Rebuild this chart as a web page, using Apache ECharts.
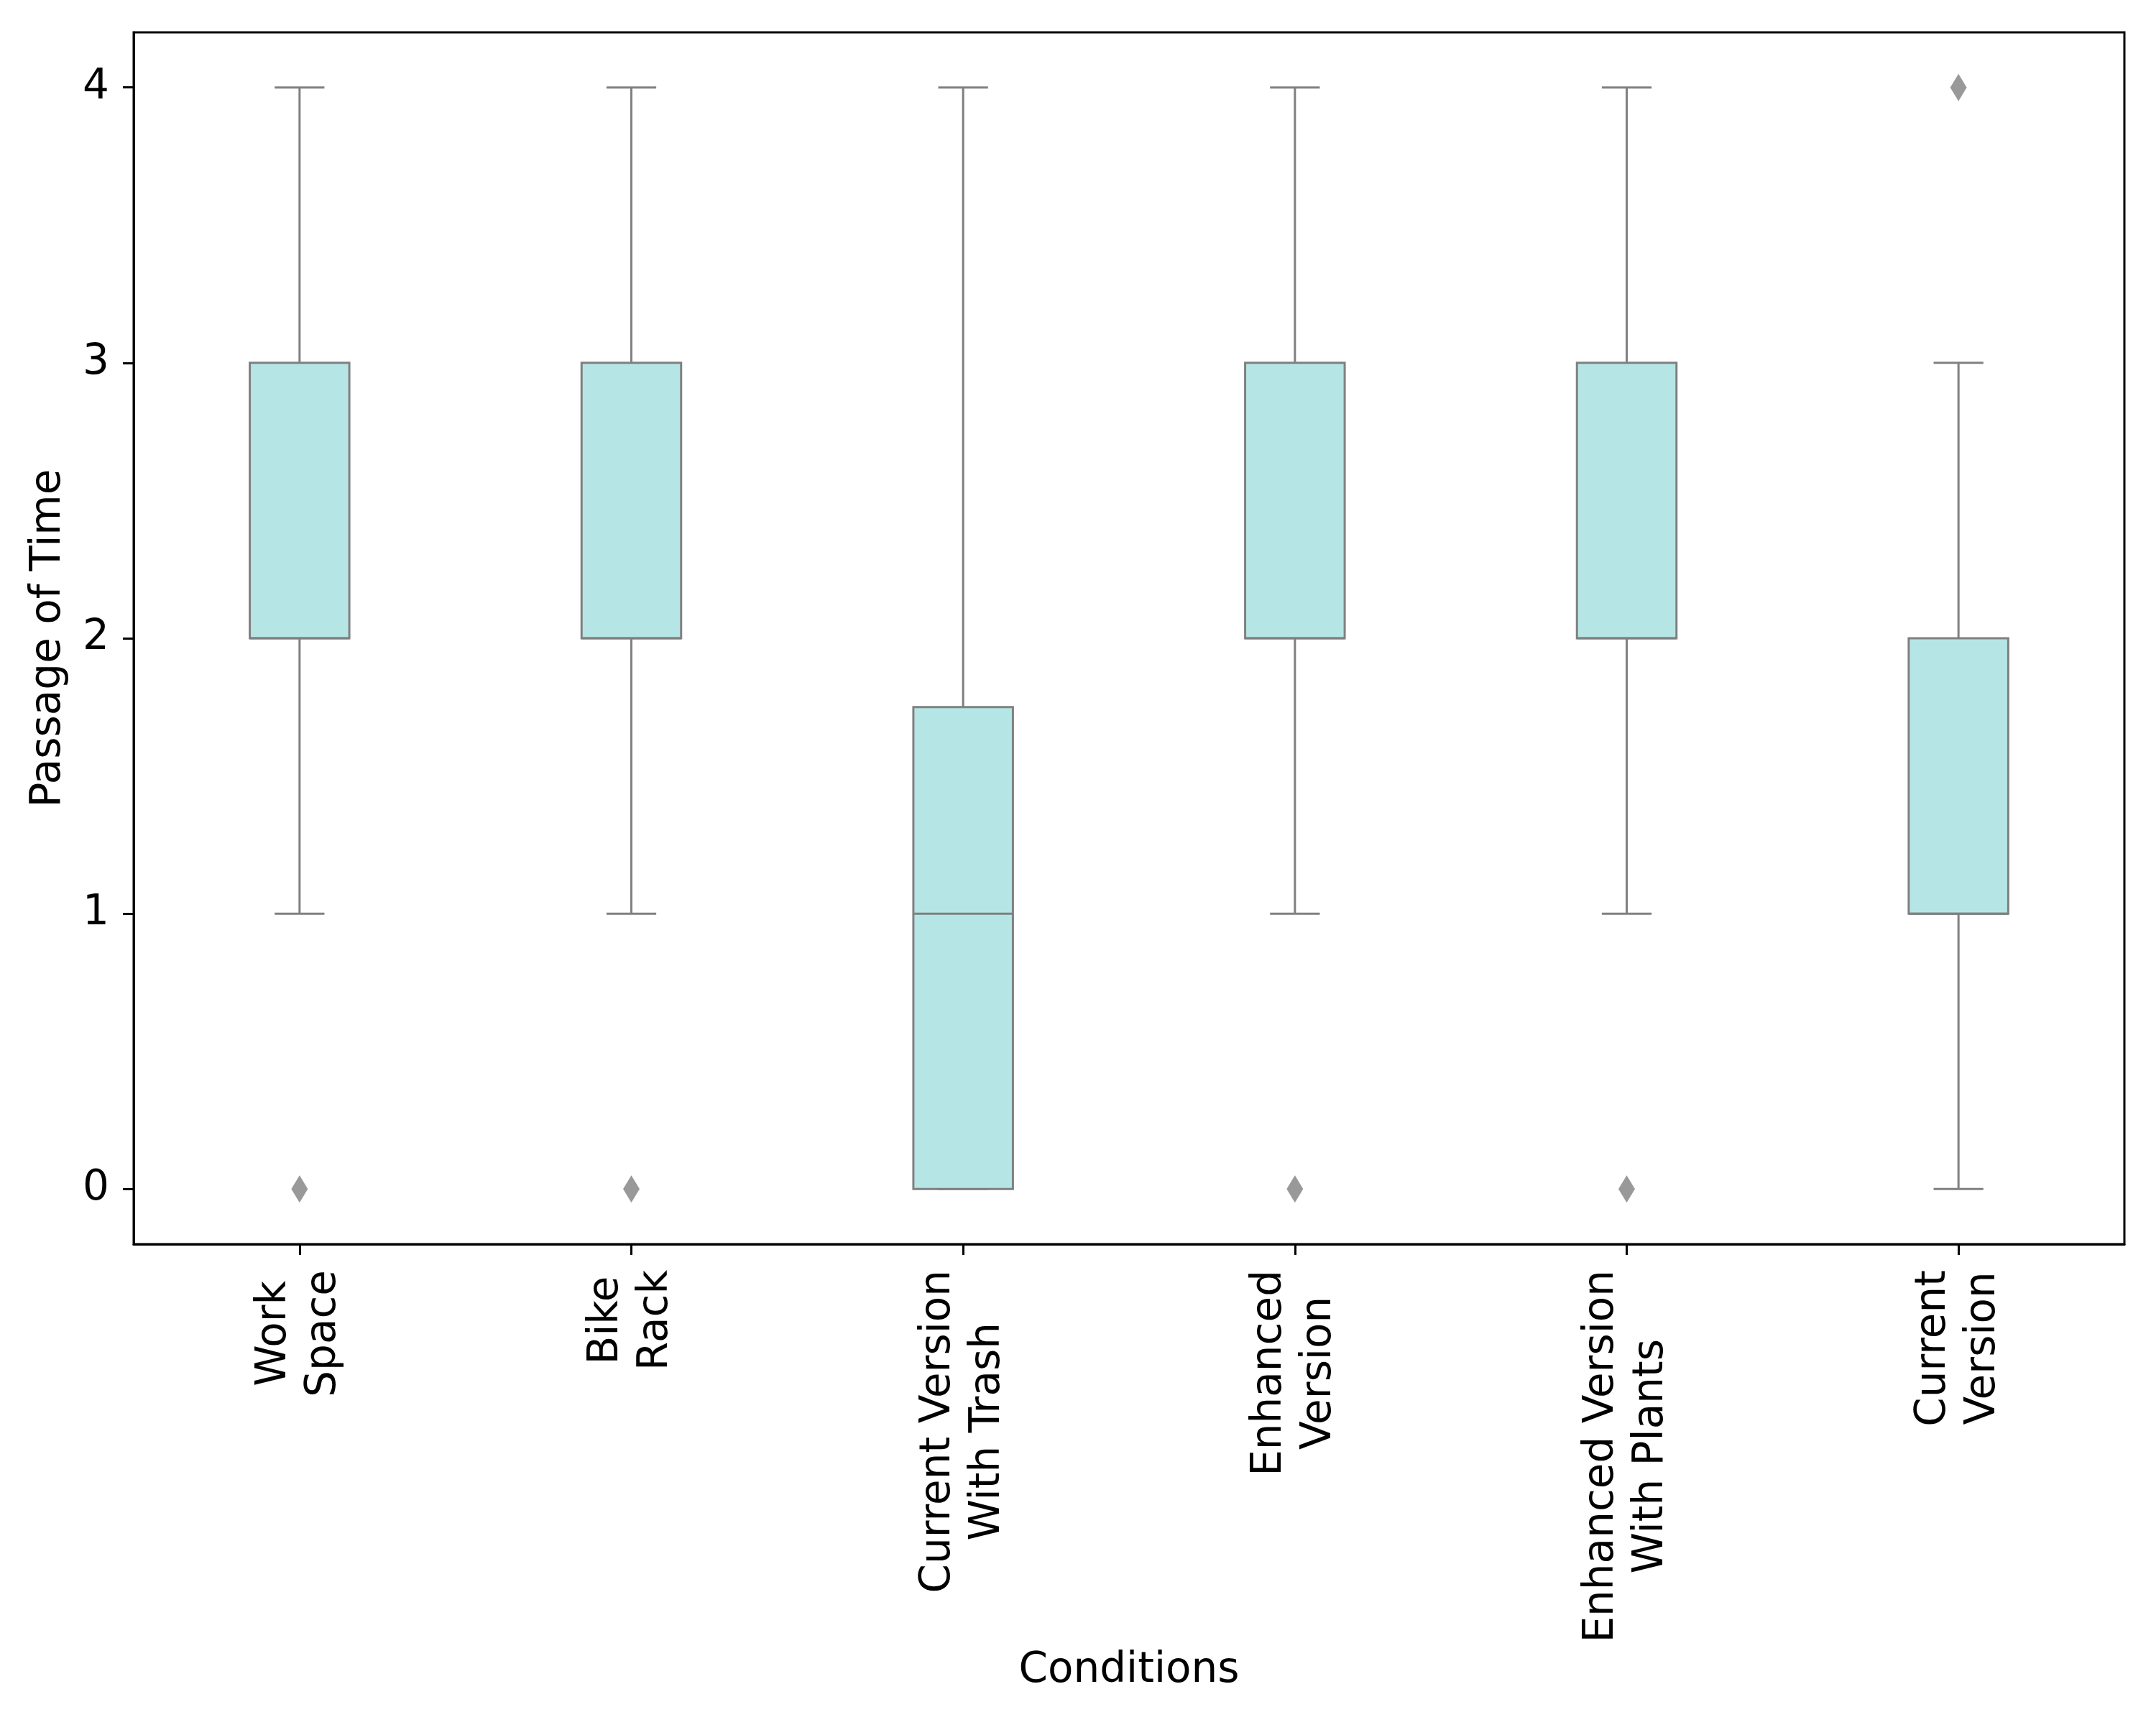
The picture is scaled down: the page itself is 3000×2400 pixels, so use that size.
<!DOCTYPE html>
<html>
<head>
<meta charset="utf-8">
<script src="https://cdn.jsdelivr.net/npm/echarts@6/dist/echarts.min.js"></script>
<style>
html,body{margin:0;padding:0;background:#fff;}
#chart{width:3000px;height:2400px;}
</style>
</head>
<body>
<div id="chart"></div>
<script>
// ---- data ----
const categories = ['Work\nSpace', 'Bike\nRack', 'Current Version\nWith Trash', 'Enhanced\nVersion', 'Enhanced Version\nWith Plants', 'Current\nVersion'];
const whiskerLow = [1, 1, 0, 1, 1, 0];
const q1 = [2, 2, 0, 2, 2, 1];
const median = [2, 2, 1, 2, 2, 1];
const q3 = [3, 3, 1.75, 3, 3, 2];
const whiskerHigh = [4, 4, 4, 4, 4, 3];
const outliers = [[0, 0], [1, 0], [3, 0], [4, 0], [5, 4]];
const yTicks = [0, 1, 2, 3, 4];

const FONT = 'DejaVu Sans';
const LINE = '#808080';
const FILL = '#b5e6e5';

const boxData = categories.map((c, i) => [i, whiskerLow[i], q1[i], median[i], q3[i], whiskerHigh[i]]);

function renderBox(params, api) {
  const x = api.value(0);
  const low = api.coord([x, api.value(1)]);
  const b1 = api.coord([x, api.value(2)]);
  const med = api.coord([x, api.value(3)]);
  const b3 = api.coord([x, api.value(4)]);
  const high = api.coord([x, api.value(5)]);
  const band = api.size([1, 0])[0];
  const bw = band * 0.3;
  const cw = band * 0.15;
  const cx = low[0];
  const ls = { stroke: LINE, lineWidth: 3, fill: null };
  return {
    type: 'group',
    children: [
      { type: 'line', shape: { x1: cx, y1: low[1], x2: cx, y2: b1[1] }, style: ls },
      { type: 'line', shape: { x1: cx, y1: b3[1], x2: cx, y2: high[1] }, style: ls },
      { type: 'line', shape: { x1: cx - cw / 2, y1: low[1], x2: cx + cw / 2, y2: low[1] }, style: ls },
      { type: 'line', shape: { x1: cx - cw / 2, y1: high[1], x2: cx + cw / 2, y2: high[1] }, style: ls },
      { type: 'rect', shape: { x: cx - bw / 2, y: b3[1], width: bw, height: b1[1] - b3[1] }, style: { fill: FILL, stroke: LINE, lineWidth: 3 } },
      { type: 'line', shape: { x1: cx - bw / 2, y1: med[1], x2: cx + bw / 2, y2: med[1] }, style: ls }
    ]
  };
}

const chart = echarts.init(document.getElementById('chart'), null, { renderer: 'canvas' });
chart.setOption({
  backgroundColor: '#ffffff',
  animation: false,
  grid: {
    left: 186, right: 44, top: 45, bottom: 669,
    show: true, borderColor: '#000', borderWidth: 3, backgroundColor: 'transparent'
  },
  xAxis: {
    type: 'category',
    data: categories,
    boundaryGap: true,
    name: 'Conditions',
    nameLocation: 'middle',
    nameGap: 565,
    nameTextStyle: { fontFamily: FONT, fontSize: 58, color: '#000' },
    axisLine: { show: true, onZero: false, lineStyle: { color: '#000', width: 3 } },
    axisTick: { show: true, alignWithLabel: true, length: 15, lineStyle: { color: '#000', width: 3 } },
    axisLabel: {
      rotate: 90,
      interval: 0,
      margin: 36,
      formatter: v => v.split('\n').map(s => '{c|' + s + '}').join('\n'),
      rich: { c: { align: 'center', fontFamily: FONT, fontSize: 58, lineHeight: 69, color: '#000' } }
    },
    splitLine: { show: false }
  },
  yAxis: {
    type: 'value',
    min: -0.2,
    max: 4.2,
    name: 'Passage of Time',
    nameLocation: 'middle',
    nameGap: 89,
    nameRotate: 90,
    nameTextStyle: { fontFamily: FONT, fontSize: 58, color: '#000' },
    axisLine: { show: true, onZero: false, lineStyle: { color: '#000', width: 3 } },
    axisTick: { show: true, length: 15, customValues: yTicks, lineStyle: { color: '#000', width: 3 } },
    axisLabel: { customValues: yTicks, margin: 34, fontFamily: FONT, fontSize: 58, color: '#000' },
    splitLine: { show: false }
  },
  series: [
    {
      type: 'custom',
      renderItem: renderBox,
      data: boxData,
      encode: { x: 0, y: [1, 2, 3, 4, 5] },
      z: 2
    },
    {
      type: 'scatter',
      data: outliers,
      symbol: 'diamond',
      symbolSize: [23, 38],
      itemStyle: { color: LINE },
      z: 3
    }
  ]
});
</script>
</body>
</html>
